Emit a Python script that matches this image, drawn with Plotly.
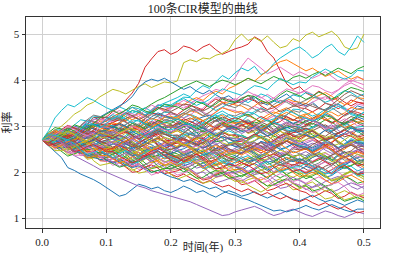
import plotly.graph_objects as go

times = [0.00, 0.01, 0.02, 0.03, 0.04, 0.05, 0.06, 0.07, 0.08, 0.09, 0.10,
         0.11, 0.12, 0.13, 0.14, 0.15, 0.16, 0.17, 0.18, 0.19, 0.20,
         0.21, 0.22, 0.23, 0.24, 0.25, 0.26, 0.27, 0.28, 0.29, 0.30,
         0.31, 0.32, 0.33, 0.34, 0.35, 0.36, 0.37, 0.38, 0.39, 0.40,
         0.41, 0.42, 0.43, 0.44, 0.45, 0.46, 0.47, 0.48, 0.49, 0.50]

# 100 CIR paths, rate values in hundredths
paths = [
 [270, 258,246,232,210,204,196,190,184,176,167, 158,148,152,162,174,170,164,168,160,156, 162,170,164,156,160,152,146,154,160,155, 148,152,158,150,144,150,156,148,142,138, 144,150,142,136,140,134,128,134,140,135],
 [270, 278,287,286,278,274,282,294,305,300,296, 294,306,316,323,316,307,300,307,319,318, 320,310,302,296,304,312,319,324,314,305, 301,295,303,315,324,331,326,316,312,322, 327,317,322,330,323,311,304,309,316,310],
 [270, 276,269,259,249,251,260,266,260,249,252, 242,247,255,247,236,241,250,257,251,244, 240,231,236,245,239,229,234,243,236,232, 243,249,241,233,240,230,221,228,235,238, 230,238,243,236,227,238,245,234,223,226],
 [270, 276,282,278,289,296,290,301,308,314,320, 332,341,356,372,393,428,446,462,466,456, 462,474,470,462,472,478,466,456,462,468, 472,478,494,486,462,448,420,392,380,386, 372,365,376,368,356,362,352,344,352,348],
 [270, 264,257,250,244,236,229,222,214,206,200, 194,188,182,176,170,166,160,156,152,148, 144,140,136,130,124,118,112,106,108,114, 118,122,126,120,112,106,110,116,120,114, 108,104,110,116,112,106,102,108,114,110],
 [270, 270,260,250,243,249,256,262,265,255,244, 247,253,247,236,227,230,239,245,237,228, 232,222,227,235,227,214,207,212,219,212, 208,218,226,231,222,211,202,207,217,214, 207,199,204,213,219,223,215,202,196,203],
 [270, 278,284,280,291,298,292,300,309,302,306, 314,320,312,322,330,325,334,342,336,340, 348,356,350,358,366,372,380,376,392,405, 430,448,438,426,414,420,428,418,410,418, 412,404,410,418,408,398,404,396,406,402],
 [270, 264,273,281,275,268,281,289,281,271,276, 283,278,268,260,263,273,281,275,266,270, 279,284,275,266,271,259,249,255,261,262, 259,250,257,266,261,252,257,268,261,258, 249,255,263,256,246,252,262,269,264,258],
 [270, 282,291,300,312,326,334,346,352,364,372, 380,376,370,378,386,392,384,390,396,394, 398,438,444,440,448,446,454,458,466,488, 500,486,492,484,496,482,470,474,490,484, 498,504,494,500,506,494,472,466,470,500],
 [270, 264,272,280,274,286,293,288,298,306,300, 310,318,312,322,330,324,336,344,350,356, 362,370,364,378,388,382,396,410,402,416, 426,420,430,412,418,436,448,458,466,472, 462,448,456,470,478,462,454,472,496,482],
 [270, 278,285,280,292,300,296,306,314,320,328, 336,344,352,364,384,396,402,398,404,396, 388,380,386,376,370,378,368,360,366,356, 350,358,364,352,346,354,362,370,358,350, 344,352,340,334,342,348,338,332,344,340],
 [270, 268,274,282,277,288,294,290,298,304,300, 308,316,312,320,328,322,332,340,334,342, 350,346,356,362,356,368,376,370,382,388, 396,404,398,410,420,432,440,444,436,428, 420,426,416,408,414,420,410,402,408,400],
 [270, 276,272,282,290,286,296,302,298,306,312, 320,316,326,334,330,340,348,356,362,370, 378,386,392,398,392,386,394,400,396,390, 396,404,398,392,400,408,402,396,406,410, 404,412,418,410,418,426,420,414,424,430],
 [270, 262,255,260,252,246,240,246,238,232,228, 222,228,220,212,218,210,204,198,204,196, 190,196,188,182,176,182,174,168,172,164, 158,164,156,150,156,148,142,148,140,136, 142,134,128,134,126,120,126,118,112,115],
 [270, 265,274,281,285,275,263,253,257,266,262, 267,257,262,270,263,251,244,249,256,250, 246,241,248,260,269,277,272,261,258,268, 270,261,253,247,255,264,271,276,267,258, 263,269,265,255,248,252,262,270,262,255],
 [270, 269,263,271,283,280,273,281,293,289,288, 300,307,300,293,301,292,284,292,300,304, 296,304,311,304,295,306,313,304,293,296, 303,296,286,276,279,289,295,289,278,282, 279,290,297,303,295,285,277,281,292,290],
 [270, 265,275,288,285,279,289,303,315,314,312, 320,329,328,320,316,324,336,347,342,338, 346,339,347,358,354,345,341,349,359,356, 368,375,368,361,369,360,352,360,368,372, 376,369,362,358,368,379,388,394,387,380],
 [270, 262,252,256,263,268,272,262,248,240,246, 238,245,251,243,234,245,251,241,229,232, 227,237,243,248,238,226,217,220,230,226, 216,222,229,222,211,216,226,232,227,220, 217,208,215,224,219,209,215,225,219,215],
 [270, 276,278,266,254,256,241,228,231,234,232, 232,221,212,204,210,217,222,226,215,204, 207,212,207,195,186,189,197,204,195,186, 177,184,188,180,170,180,186,174,162,164, 170,163,152,142,145,154,160,153,142,145],
 [270, 290,318,334,347,342,352,362,356,348,340, 334,342,336,328,334,340,332,324,330,330, 324,318,326,320,312,318,324,316,310,312, 306,312,304,298,304,310,302,296,300,298, 292,298,304,296,290,296,302,294,298,300],
 [270, 273,260,264,269,260,246,236,240,244,236, 232,227,236,248,257,265,260,251,248,258, 247,251,258,249,237,241,249,255,248,240, 243,248,243,231,222,225,233,240,231,222, 233,241,233,226,234,224,216,223,232,235],
 [270, 278,288,287,280,276,284,297,308,304,300, 295,286,291,300,293,282,287,296,289,284, 290,283,273,263,265,274,280,274,263,266, 260,270,279,274,267,280,289,282,273,278, 280,271,264,258,266,275,282,288,279,270],
 [270, 263,270,273,275,263,249,237,237,244,238, 246,250,238,228,232,219,208,211,216,216, 209,201,205,214,220,225,217,203,197,204, 209,199,206,214,207,195,188,195,202,196, 186,192,199,192,181,186,196,202,197,190],
 [270, 275,269,265,262,273,285,295,304,298,292, 304,303,297,293,301,316,328,326,321,330, 325,336,345,341,335,349,359,352,344,350, 354,360,355,344,336,340,349,356,348,340, 338,331,339,350,346,338,345,357,352,350],
 [270, 261,269,274,267,257,267,274,263,252,254, 249,258,263,267,257,245,235,237,246,242, 254,262,255,249,257,248,241,249,258,262, 254,244,248,255,260,264,254,240,232,238, 245,236,244,254,249,238,233,241,249,245],
 [270, 281,278,272,266,273,287,297,295,288,296, 301,291,298,306,299,287,280,287,294,288, 293,287,282,279,290,302,312,320,314,308, 304,295,300,309,303,293,298,307,300,296, 302,311,308,300,294,300,312,321,316,310],
 [270, 263,250,253,258,249,236,237,244,233,226, 215,220,226,218,206,210,219,224,218,210, 205,213,219,222,212,200,189,192,200,196, 203,197,186,177,180,190,197,190,180,184, 176,184,190,183,175,186,193,183,172,175],
 [270, 265,259,267,278,286,293,287,277,273,282, 286,291,286,274,266,270,278,285,276,268, 273,263,268,276,269,257,250,255,262,256, 261,255,250,247,258,270,280,288,282,276, 285,290,280,271,276,263,253,258,264,265],
 [270, 259,263,269,260,248,252,260,265,258,250, 242,250,255,248,239,250,257,246,235,238, 246,242,233,226,230,241,250,245,237,242, 251,255,245,235,240,228,217,222,227,228, 223,232,239,243,233,221,211,215,224,220],
 [270, 283,292,287,282,291,283,277,287,297,302, 301,294,303,314,311,304,311,324,319,318, 322,329,324,314,306,310,320,327,320,312, 310,323,332,340,333,324,318,324,337,336, 329,322,327,337,343,348,341,328,323,330],
 [270, 272,275,268,254,244,246,252,257,246,236, 238,229,222,216,224,233,240,246,237,228, 223,214,219,228,221,210,215,224,217,212, 204,213,219,212,204,215,222,212,202,205, 213,207,198,189,193,203,211,205,196,200],
 [270, 280,275,286,299,297,290,288,299,311,310, 321,328,321,314,321,311,303,311,319,322, 315,324,334,330,322,330,343,352,350,346, 344,336,344,354,350,342,348,360,354,352, 349,360,367,373,365,355,347,351,362,360],
 [270, 267,278,285,291,283,273,265,269,280,278, 274,269,276,288,297,305,300,289,286,296, 304,308,296,286,290,277,266,269,274,274, 281,274,282,293,288,278,274,282,292,288, 290,281,274,268,276,285,292,298,289,280],
 [270, 258,263,265,255,242,249,253,239,225,224, 230,222,211,200,202,211,216,209,197,200, 203,209,203,192,183,186,195,201,193,184, 173,176,182,172,160,164,171,176,168,160, 156,146,152,160,154,143,148,157,150,145],
 [270, 273,266,259,255,264,274,283,289,282,274, 278,268,273,281,273,260,253,258,265,258, 251,244,249,259,265,270,263,250,245,252, 258,266,263,254,248,254,265,274,268,262, 271,276,265,256,261,249,239,243,249,250],
 [270, 270,265,275,288,286,280,289,303,300,300, 297,308,317,323,315,305,297,303,314,312, 304,312,318,311,302,313,320,310,299,302, 312,309,301,295,301,314,324,320,313,320, 311,317,325,318,308,314,324,331,326,320],
 [270, 278,282,270,260,264,251,240,243,248,248, 252,258,252,241,233,237,246,252,244,236, 233,244,252,258,250,240,232,237,248,246, 247,237,228,221,228,236,242,246,236,226, 232,224,231,241,235,224,219,226,235,230],
 [270, 266,261,270,282,291,299,294,285,282,292, 282,287,293,285,274,279,288,293,287,280, 279,273,282,294,291,284,292,305,301,300, 309,314,305,296,301,289,279,285,291,292, 285,295,302,296,289,301,309,300,291,295],
 [270, 274,265,251,239,239,246,250,240,227,228, 220,228,234,227,218,229,236,226,215,218, 220,210,202,195,203,212,218,223,213,204, 197,189,195,204,210,215,207,195,189,196, 200,206,201,190,182,185,194,201,193,185],
 [270, 280,292,292,287,285,295,310,322,320,318, 317,312,321,334,331,324,333,346,343,342, 353,360,352,345,352,342,334,341,349,352, 359,351,360,370,365,355,350,359,368,364, 373,368,360,352,357,369,377,373,364,370],
 [270, 260,265,273,265,254,259,268,275,269,262, 266,260,254,251,261,272,282,289,283,276, 270,278,283,286,275,262,251,253,261,256, 254,247,256,267,263,255,262,275,270,268, 261,253,259,268,274,279,271,259,253,260],
 [270, 261,267,272,263,253,263,268,257,244,246, 255,259,249,239,244,232,221,226,231,232, 237,227,232,240,233,221,214,219,226,220, 225,232,227,217,210,215,225,232,225,218, 220,211,204,198,206,215,222,228,219,210],
 [270, 268,280,289,296,289,280,273,279,291,290, 299,295,288,281,286,298,307,304,296,302, 292,298,305,298,287,292,302,308,303,296, 290,301,309,305,298,311,321,313,305,310, 307,298,305,314,309,299,305,315,309,305],
 [270, 281,288,280,273,280,270,262,269,277,280, 272,263,266,274,279,283,274,259,252,258, 264,272,268,259,253,259,270,278,272,266, 267,257,249,242,249,257,263,268,258,248, 253,243,250,258,251,239,232,239,246,240],
 [270, 272,259,261,266,256,241,231,233,237,228, 223,213,217,225,218,207,211,219,211,206, 214,218,207,197,201,188,177,181,186,186, 181,189,195,198,188,176,165,168,176,172, 162,168,175,167,157,162,171,177,172,165],
 [270, 274,268,262,259,269,280,290,297,291,284, 279,289,298,293,287,301,310,303,294,300, 306,299,289,279,281,290,296,290,279,282, 277,272,279,291,299,306,301,290,287,296, 300,306,301,290,282,285,294,301,293,285],
 [270, 283,282,278,274,283,299,311,311,306,316, 327,334,326,319,326,316,308,315,323,326, 324,317,324,335,331,323,330,341,336,334, 326,333,343,337,328,335,346,355,351,346, 342,352,359,364,355,344,335,339,348,345],
 [270, 265,255,259,267,260,249,253,261,253,248, 253,243,249,257,251,239,232,238,244,238, 230,239,245,239,230,241,249,239,229,232, 242,247,238,229,235,224,214,220,226,228, 222,214,220,230,237,242,235,223,217,225],
 [270, 264,256,262,271,278,284,276,264,258,266, 264,276,285,292,285,276,269,275,287,286, 290,282,276,271,281,292,300,307,299,292, 296,284,289,295,287,274,265,270,275,268, 279,285,277,270,277,266,258,265,272,275],
 [270, 272,276,268,255,245,247,254,258,248,238, 245,239,228,219,222,232,239,232,222,226, 216,221,227,219,208,213,222,227,221,214, 210,201,207,216,210,200,205,215,208,204, 196,204,210,203,195,206,213,203,192,195],
 [270, 265,276,286,282,276,290,300,294,286,292, 298,292,288,285,297,310,320,329,323,318, 310,302,306,315,320,324,316,302,296,302, 311,307,299,292,297,309,318,314,306,312, 318,310,317,326,321,310,304,311,320,315],
 [270, 279,284,273,264,269,257,247,251,257,258, 249,256,264,258,248,254,265,272,268,262, 256,264,270,273,262,249,238,241,249,244, 250,259,256,248,242,248,260,269,264,258, 254,245,252,261,255,245,250,261,254,250],
 [270, 269,256,245,235,240,246,249,251,238,226, 219,211,215,224,230,235,227,213,207,214, 218,208,213,221,213,200,193,198,205,198, 190,198,203,196,187,198,205,194,183,186, 193,188,178,170,173,183,191,185,176,180],
 [270, 269,283,293,302,296,288,283,290,304,304, 308,314,310,299,291,295,304,312,304,296, 308,316,310,304,312,303,296,305,314,318, 314,305,312,321,315,305,310,321,314,310, 303,310,320,314,306,313,325,333,330,325],
 [270, 258,261,266,256,243,246,253,257,249,240, 245,235,242,250,243,231,224,231,238,232, 235,240,235,223,214,217,225,232,223,214, 209,202,209,219,227,234,227,216,211,220, 222,212,204,197,205,213,220,224,215,205],
 [270, 278,272,263,254,258,269,276,271,261,266, 264,258,266,278,274,266,274,286,282,280, 281,272,263,257,264,272,279,283,274,264, 261,272,281,287,279,269,261,267,278,276, 285,291,281,273,278,266,257,262,269,270],
 [270, 280,276,287,301,299,292,291,302,315,314, 309,321,330,327,321,335,346,339,332,338, 348,345,339,333,339,352,362,360,353,360, 352,359,369,363,354,361,372,381,377,372, 379,388,385,377,372,379,391,400,395,390],
 [270, 265,255,261,269,262,251,255,265,257,252, 261,266,255,246,251,239,229,233,239,240, 234,244,251,246,239,252,261,252,243,248, 253,243,250,258,251,239,232,239,246,240, 236,245,252,256,247,235,226,229,239,235],
 [270, 259,247,247,252,254,255,243,225,215,218, 221,226,219,207,198,201,209,214,205,196, 185,190,196,188,176,180,189,194,188,180, 182,172,164,157,165,174,180,185,175,166, 174,179,168,159,163,150,140,144,150,150],
 [270, 267,278,286,292,284,274,266,271,282,280, 278,271,280,291,287,279,286,299,294,292, 297,287,294,302,295,283,276,283,290,284, 279,274,281,293,301,308,303,292,289,298, 290,298,305,298,289,300,307,298,287,290],
 [270, 264,258,252,256,248,242,238,232,228,226, 220,224,216,210,214,206,200,204,196,190, 186,180,184,176,170,164,168,160,154,150, 144,140,134,128,122,116,118,114,118,122, 128,122,118,124,130,124,118,114,120,120],
 [270, 283,292,285,280,289,281,275,283,293,298, 307,304,296,290,295,307,317,313,306,312, 319,328,325,317,312,319,331,340,335,330, 332,323,316,310,318,327,334,340,331,322, 320,314,322,333,330,322,329,341,337,335],
 [270, 273,279,273,262,253,256,265,271,263,254, 249,257,263,266,256,244,233,236,244,240, 233,225,231,240,246,251,243,231,225,232, 222,228,235,228,217,222,232,238,233,226, 231,221,227,235,228,215,208,214,221,215],
 [270, 268,261,270,281,277,269,276,289,284,282, 274,282,287,280,271,282,289,278,267,270, 275,269,265,262,273,285,295,304,298,292, 302,307,298,289,295,284,274,280,286,288, 295,289,280,271,274,284,291,286,276,280],
 [270, 259,264,268,258,246,254,258,246,232,232, 221,226,232,224,212,216,225,230,224,216, 224,229,218,209,213,200,190,194,200,200, 204,193,199,206,198,185,177,183,189,182, 175,167,171,180,186,191,183,169,163,170],
 [270, 280,276,269,262,268,281,290,287,279,286, 290,296,291,280,273,276,285,292,284,276, 274,286,296,303,296,287,280,287,299,298, 294,286,292,302,296,286,292,302,296,292, 296,289,282,278,288,299,308,314,307,300],
 [270, 263,255,261,270,276,281,273,261,255,262, 267,258,264,273,266,254,248,254,262,256, 252,243,248,258,252,242,247,257,250,246, 240,250,259,254,247,260,269,262,253,258, 267,271,261,252,257,244,234,239,244,245],
 [270, 278,275,272,272,286,301,314,324,321,318, 315,326,335,341,333,323,315,321,332,330, 322,329,338,332,323,330,341,349,345,340, 349,345,337,330,335,347,356,352,344,350, 356,363,360,350,344,349,360,368,362,355],
 [270, 274,262,267,273,265,252,243,248,253,246, 238,229,234,242,247,251,242,229,222,228, 236,241,230,221,225,212,202,206,212,212, 216,222,216,205,197,201,210,216,208,200, 190,195,202,194,183,188,197,203,197,190],
 [270, 280,286,276,269,274,263,254,260,266,268, 272,266,260,257,267,278,288,295,289,282, 273,281,286,279,269,279,286,275,264,266, 261,270,277,281,271,259,249,253,262,258, 256,248,256,267,263,254,261,273,267,265],
 [270, 260,264,271,262,251,256,264,270,263,256, 262,256,245,236,238,247,254,247,237,240, 246,236,243,251,245,234,227,234,241,236, 229,222,227,237,243,248,241,228,223,230, 223,232,238,232,224,236,244,235,224,228],
 [270, 277,286,285,277,272,279,291,302,297,292, 290,283,290,301,297,289,296,307,302,300, 297,307,315,320,312,302,293,298,308,306, 310,303,297,293,303,314,323,330,323,316, 325,331,321,313,318,306,297,302,309,310],
 [270, 262,268,272,273,260,245,232,233,239,232, 240,243,232,221,225,212,200,204,208,208, 214,207,197,187,189,198,204,198,187,190, 193,198,191,179,170,173,181,186,177,168, 171,159,163,169,160,146,137,141,146,138],
 [270, 265,259,265,276,284,291,285,273,269,278, 280,270,262,255,263,272,278,283,273,264, 263,256,265,276,273,266,273,286,281,280, 270,275,283,275,264,269,278,285,279,272, 280,276,267,259,264,275,283,278,270,275],
 [270, 262,269,275,267,258,269,275,265,253,256, 267,273,265,257,264,254,245,252,259,262, 266,255,261,268,260,247,239,245,251,244, 241,252,259,265,257,247,239,243,254,252, 257,263,259,248,241,246,255,263,255,248],
 [270, 272,269,281,296,296,292,303,319,318,320, 312,319,329,323,314,321,332,341,337,332, 339,348,346,338,333,340,352,362,357,352, 361,366,357,348,353,341,331,337,343,344, 349,343,338,335,347,359,369,377,371,365],
 [270, 275,266,254,242,243,251,255,247,234,236, 228,236,241,234,225,236,243,232,221,224, 217,209,214,223,229,234,226,214,207,214, 210,201,208,217,211,201,206,217,210,206, 201,211,217,222,212,200,191,194,204,200],
 [270, 278,271,279,290,286,277,273,281,291,288, 285,296,304,310,302,292,284,289,300,298, 300,291,282,276,284,293,300,304,295,286, 291,299,295,286,279,284,295,303,297,290, 284,276,282,291,298,303,296,283,278,285],
 [270, 272,262,254,247,255,264,270,275,265,256, 252,243,250,259,253,243,248,259,252,248, 257,262,253,244,249,237,227,233,239,240, 248,243,233,225,229,240,248,243,233,238, 228,234,241,234,223,228,238,244,239,232],
 [270, 269,266,277,291,303,314,311,304,303,316, 325,319,329,341,338,330,327,337,348,346, 354,363,362,354,350,358,370,381,376,372, 367,379,388,385,379,393,404,397,390,396, 394,407,416,424,417,408,402,408,421,420],
 [270, 275,282,279,269,261,266,277,286,280,272, 279,273,262,253,256,266,273,266,256,260, 252,259,267,261,252,259,270,277,273,268, 273,263,268,276,269,257,250,255,262,256, 254,246,254,264,260,252,258,270,264,262],
 [270, 277,279,267,255,258,244,231,234,237,236, 229,220,225,233,239,244,235,222,215,222, 213,221,226,219,209,219,226,215,204,206, 207,198,189,183,190,198,205,209,200,190, 194,200,194,183,175,179,188,194,186,178],
 [270, 264,272,283,278,271,280,292,302,299,296, 294,287,295,306,302,294,301,313,308,306, 315,310,302,294,299,311,319,315,306,312, 321,326,317,308,313,301,291,297,303,304, 312,304,313,323,319,310,305,314,323,320],
 [270, 264,272,276,279,268,255,244,245,253,248, 252,258,252,241,233,237,246,252,244,236, 232,223,230,239,233,223,228,239,232,228, 221,214,219,229,235,240,233,220,215,222, 215,223,230,223,215,227,234,225,214,218],
 [270, 279,276,268,262,267,279,289,285,278,284, 288,281,276,272,282,293,302,310,303,296, 302,292,299,307,301,290,283,290,297,292, 284,291,299,293,284,291,302,309,305,300, 310,315,306,297,303,291,282,287,294,295],
 [270, 266,257,264,273,267,257,262,273,266,262, 254,262,267,260,251,262,269,258,247,250, 254,261,256,246,238,242,252,259,252,244, 240,251,258,264,255,244,236,240,251,248, 250,242,234,229,237,246,254,259,251,242],
 [270, 270,272,264,249,237,237,242,246,234,222, 230,234,224,214,218,205,194,199,204,204, 194,198,205,196,185,190,198,204,197,190, 185,175,181,189,182,171,175,185,177,172, 164,156,160,168,174,178,169,155,149,155],
 [270, 267,280,292,290,286,302,314,310,304,312, 321,316,308,300,305,317,325,321,312,318, 314,325,332,338,329,318,310,314,325,322, 329,321,328,338,333,323,318,325,334,330, 341,348,340,333,340,330,322,329,337,340],
 [270, 266,277,284,290,281,270,262,266,277,274, 264,269,275,267,256,261,270,275,269,262, 266,260,254,251,261,272,282,289,283,276, 272,263,269,278,272,262,267,277,270,266, 271,278,275,265,257,261,271,280,274,268],
 [270, 273,261,265,271,262,248,239,243,248,240, 232,241,247,241,232,243,251,241,231,234, 227,219,223,232,238,243,235,221,215,222, 231,236,226,217,223,210,200,205,211,212, 220,214,205,196,200,211,218,213,203,208],
 [270, 275,270,265,263,274,286,297,305,300,294, 298,304,300,289,281,285,294,302,294,286, 297,304,297,290,297,287,279,287,295,298, 288,292,299,290,279,284,292,298,291,284, 281,274,281,292,287,278,285,296,291,288],
 [270, 262,253,258,266,271,275,266,253,246,252, 249,260,268,274,266,256,248,253,264,262, 268,261,251,241,243,252,258,252,241,244, 237,246,253,248,240,253,261,252,242,246, 251,241,248,256,249,237,230,237,244,238],
 [270, 286,297,294,291,303,298,294,306,318,326, 334,327,335,346,342,333,329,337,347,344, 342,335,342,353,349,341,348,359,354,352, 358,367,364,356,350,356,368,377,372,366, 358,365,374,368,359,365,376,384,380,375],
 [270, 258,262,267,258,245,248,256,260,253,244, 245,235,227,220,227,235,241,246,236,226, 221,230,235,239,229,217,207,209,218,214, 221,215,206,197,200,210,217,212,202,206, 198,206,213,206,197,208,215,206,195,198],
 [270, 278,273,264,256,260,271,279,274,265,270, 263,256,261,271,277,282,275,262,257,264, 271,263,270,280,275,265,260,267,276,272, 274,265,257,251,259,268,275,280,271,262, 259,250,257,266,261,252,257,268,261,258],
 [270, 263,272,279,273,265,277,285,276,266,270, 274,280,274,263,255,259,268,274,266,258, 268,275,266,259,265,254,246,252,260,262, 252,257,265,257,246,251,260,267,261,254, 250,260,267,272,263,253,242,246,258,255],
 [270, 269,282,291,299,293,285,279,285,298,298, 294,285,291,300,294,284,289,299,292,288, 294,302,300,291,285,291,302,312,306,300, 295,289,296,307,315,322,316,305,301,310, 318,312,303,294,298,308,316,310,301,305],
 [270, 277,280,268,257,260,246,234,237,241,240, 230,235,243,235,224,229,238,245,239,232, 225,233,240,233,225,237,244,235,224,228, 234,224,231,240,234,222,215,222,229,224, 227,219,211,206,215,225,233,238,230,222],
 [270, 277,269,278,288,283,273,268,277,286,282, 277,286,292,296,286,274,264,267,276,272, 265,258,263,273,279,284,277,264,259,266, 260,270,279,274,267,280,289,282,273,278, 287,293,283,275,280,268,259,264,271,272],
 [270, 282,280,275,270,278,293,304,303,297,306, 317,323,315,307,314,304,295,302,309,312, 316,308,302,297,307,318,326,333,325,318, 323,331,327,318,311,316,327,335,329,322, 317,311,317,328,336,343,337,325,321,330],
]

colors = ["#1f77b4", "#ff7f0e", "#2ca02c", "#d62728", "#9467bd",
          "#8c564b", "#e377c2", "#7f7f7f", "#bcbd22", "#17becf"]

x_ticks = [0.0, 0.1, 0.2, 0.3, 0.4, 0.5]
x_tick_labels = ["0.0", "0.1", "0.2", "0.3", "0.4", "0.5"]
y_ticks = [1, 2, 3, 4, 5]
y_tick_labels = ["1", "2", "3", "4", "5"]

title_text = "100条CIR模型的曲线"
x_title = "时间(年)"
y_title = "利率"

FONT = "Liberation Serif, Times New Roman, Noto Sans CJK SC, serif"

fig = go.Figure()
for i, p in enumerate(paths):
    n = min(len(p), len(times))
    fig.add_trace(go.Scatter(
        x=times[:n], y=[v / 100 for v in p[:n]], mode="lines",
        line=dict(color=colors[i % 10], width=1),
        showlegend=False, hoverinfo="skip"))

axis_common = dict(
    showline=True, linecolor="#333333", linewidth=1, mirror=True,
    ticks="outside", ticklen=3.5, tickwidth=1, tickcolor="#333333",
    showgrid=True, gridcolor="#d0d0d0", gridwidth=1, zeroline=False,
    automargin=False,
    tickfont=dict(family=FONT, size=11, color="#222222"),
)

fig.update_layout(
    width=393, height=254,
    margin=dict(l=26, r=13, t=17, b=26),
    paper_bgcolor="white", plot_bgcolor="white",
    title=dict(text=title_text, x=0.5161, xanchor="center", y=0.965, yanchor="middle",
               font=dict(family=FONT, size=12, color="#222222")),
    xaxis=dict(range=[-0.025, 0.525], tickvals=x_ticks, ticktext=x_tick_labels,
               title=dict(text=x_title, standoff=0,
                          font=dict(family=FONT, size=11, color="#222222")),
               **axis_common),
    yaxis=dict(range=[0.79, 5.37], tickvals=y_ticks, ticktext=y_tick_labels,
               title=dict(text=y_title, standoff=0,
                          font=dict(family=FONT, size=11, color="#222222")),
               **axis_common),
    hovermode=False,
)

fig.write_html("out.html",
               config={"displayModeBar": False, "staticPlot": True},
               post_script="document.body.style.margin='0';document.body.style.padding='0';")
